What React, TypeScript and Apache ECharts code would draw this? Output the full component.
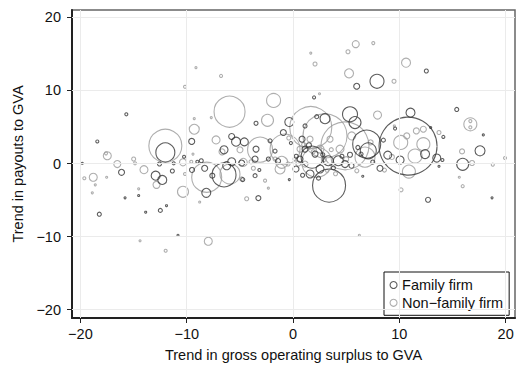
import React, { useEffect, useRef } from "react";
import * as echarts from "echarts";

// [trend in gross operating surplus to GVA, trend in payouts to GVA, firm weight]
const familyFirms: number[][] = [
  [-19.82, 0.03, 1], [-18.41, 3.02, 1.5], [-18.22, -6.93, 2], [-16.13, -1.2, 3],
  [-15.8, -4.69, 1], [-15.68, 6.73, 1.5], [-14.52, -4.38, 1], [-13.86, -6.66, 1],
  [-12.92, -1.66, 4.5], [-12.56, -0.07, 2], [-12.48, -6.41, 2], [-12.3, -2.24, 4.5],
  [-12.01, 1.52, 9.5], [-11.9, -5.77, 1], [-11.35, -1.02, 2], [-11.22, 0.03, 1.5],
  [-10.82, -9.81, 1], [-10.25, 0.92, 1.5], [-9.53, 3.02, 3], [-9.5, -0.88, 2.5],
  [-9.0, 0.24, 1.5], [-8.63, 0.38, 2], [-8.31, -0.65, 3], [-8.16, -4.01, 4.5],
  [-7.59, -1.66, 2.5], [-6.49, -1.56, 12], [-6.49, 1.88, 4], [-6.24, -0.3, 4],
  [-5.77, 3.7, 3], [-5.36, 2.99, 4.5], [-4.58, 2.96, 4], [-5.77, 0.24, 4],
  [-4.83, 0.07, 3], [-4.73, -2.2, 2], [-3.57, 0.61, 3], [-3.48, 5.5, 2],
  [-3.48, 1.97, 3], [-3.26, -4.73, 2.5], [-3.17, -0.88, 1.5], [-3.57, -1.66, 2],
  [-2.32, 0.61, 2], [-2.16, 3.1, 2], [-0.35, 5.68, 4.5], [-0.35, -2.2, 1],
  [-0.91, 4.24, 3], [1.98, 9.04, 1.5], [2.23, 6.41, 2], [3.01, 6.14, 5],
  [1.13, 5.14, 2], [2.07, 1.29, 3], [3.32, 0.38, 5], [4.26, 0.38, 5],
  [3.39, -3.02, 16.5], [5.36, 6.73, 7.5], [5.83, 5.6, 6], [5.99, 10.57, 3],
  [7.9, 11.25, 7], [12.54, 12.66, 2], [6.93, 2.65, 14], [5.36, 1.2, 2.5],
  [6.4, 1.29, 2], [7.08, 1.74, 8], [6.56, -1.74, 1], [8.18, -0.65, 3],
  [8.91, 1.15, 4], [10.07, 0.48, 4], [9.6, 4.78, 1.5], [10.82, 2.38, 29],
  [11.05, 6.96, 4.5], [12.42, 1.29, 4.5], [13.52, 0.75, 4], [12.95, 4.92, 1],
  [14.14, 3.64, 1.5], [12.7, -4.96, 2.5], [15.4, 7.4, 2], [17.9, 3.91, 1],
  [17.59, 1.74, 5], [15.96, -0.11, 6], [18.72, -4.69, 1], [1.79, 0.88, 11],
  [0.66, 0.61, 3], [1.13, 1.97, 3], [0.28, -0.75, 3], [1.6, -1.43, 4],
  [2.54, -0.75, 4], [4.89, -0.07, 3.5], [0.85, 3.33, 3], [-1.41, 0.34, 2.5],
  [-1.69, 1.7, 2], [14.05, 0.48, 1.5], [13.73, -0.38, 1],
  [0.3, 1.0, 2], [1.5, 2.5, 2.5], [2.8, 1.2, 2], [3.8, -0.6, 2],
  [4.6, 1.0, 2], [5.5, -0.3, 2.5], [6.1, 2.2, 2], [0.9, -1.6, 2],
  [2.4, -2.0, 2], [-0.2, 2.8, 1.5], [7.5, 0.2, 2], [8.5, 3.2, 2],
];

const nonFamilyFirms: number[][] = [
  [-19.63, -2.01, 1.5], [-18.79, -1.88, 4], [-18.6, -2.92, 1], [-18.88, -4.01, 1],
  [-17.59, 1.39, 1.5], [-17.47, 1.06, 4], [-16.53, -0.07, 3.5], [-17.53, -1.88, 1],
  [-14.99, 0.61, 2], [-14.86, 0.03, 1.5], [-14.52, -3.46, 1], [-14.39, -10.57, 1],
  [-14.02, -0.84, 4], [-12.84, -2.92, 3.5], [-11.98, -11.93, 1.5], [-12.01, 2.42, 16.5],
  [-10.35, 0.16, 3.5], [-10.35, -3.87, 5.5], [-10.16, -1.43, 1.5], [-10.16, 10.49, 1.5],
  [-9.29, 4.69, 5], [-9.29, 6.14, 1], [-9.57, 0.24, 1.5], [-9.41, 1.29, 1],
  [-9.13, 13.11, 1], [-8.78, -5.27, 1], [-8.12, -1.88, 15], [-7.97, -10.63, 4],
  [-7.69, 6.28, 1], [-7.24, 3.23, 4], [-6.77, 11.98, 1.5], [-6.68, 1.6, 3],
  [-5.97, 7.09, 15.5], [-5.93, -1.43, 10], [-4.99, 1.88, 3], [-4.83, -2.11, 2],
  [-4.68, 0.16, 4], [-4.36, -4.82, 2], [-3.95, 0.24, 2], [-3.73, -0.65, 2],
  [-3.1, 1.9, 12.5], [-2.63, -2.34, 1.5], [-2.32, -3.37, 1], [-2.4, 5.91, 6],
  [-1.83, 8.63, 7], [-1.22, -0.75, 5], [-1.06, 0.16, 6], [-0.75, 1.97, 15],
  [1.67, 15.11, 1], [2.07, 13.61, 2], [2.49, 9.54, 1], [1.67, 4.92, 21],
  [3.01, 3.78, 22], [4.89, 2.42, 24], [5.17, 15.29, 2], [5.9, 16.33, 3.5],
  [7.55, 16.47, 1.5], [5.27, 12.34, 4.5], [9.5, 11.25, 2], [10.63, 13.79, 4.5],
  [5.52, 3.78, 4], [7.95, 6.63, 4], [10.13, 2.88, 7], [12.26, 2.65, 6.5],
  [10.9, -1.1, 6.5], [11.6, 4.46, 3], [12.26, 4.69, 3], [10.7, 3.78, 3],
  [9.53, 5.14, 1], [13.73, 4.24, 2], [10.16, -3.6, 2], [6.24, -9.81, 1],
  [16.68, 5.37, 6.5], [16.68, 5.8, 1.5], [16.68, 4.95, 1.5], [16.84, 0.07, 2.5],
  [15.9, 1.66, 2.5], [18.79, -0.16, 1.5], [19.94, 0.75, 1.5], [15.64, -1.88, 1],
  [15.96, -3.1, 1.5], [6.77, 0.88, 10], [2.23, 0.16, 15], [0.66, 1.97, 3],
  [0.19, 0.61, 2], [1.13, -0.07, 3], [2.54, 1.97, 4], [3.48, 3.33, 3],
  [4.42, 1.97, 4], [1.6, 3.33, 3], [-0.47, -0.07, 2], [-1.69, 0.61, 2],
  [11.48, 1.02, 7],
  [0.5, 0.0, 2.5], [1.9, 1.6, 2], [2.9, 0.6, 2.5], [3.6, 1.9, 2],
  [4.0, -1.4, 2], [5.0, 0.6, 2.5], [6.0, -1.0, 2], [-0.4, 3.5, 2],
  [1.0, 2.6, 2], [3.2, -1.0, 1.5], [7.3, 2.9, 2.5], [8.6, -0.9, 2],
  [9.3, 0.9, 2.5],
];

const xTicks = [-20, -10, 0, 10, 20];
const yTicks = [-20, -10, 0, 10, 20];
const xRange = [-20.79, 20.88];
const yRange = [-21.13, 21.0];

const FONT = "'Liberation Sans', Arial, Helvetica, sans-serif";
const DARK = "#333333";
const GRAY = "#9a9a9a";

const fmt = (v: number) => (v < 0 ? "\u2212" + Math.abs(v) : String(v));

export default function App() {
  const ref = useRef<HTMLDivElement>(null);
  useEffect(() => {
    if (!ref.current) return;
    const chart = echarts.init(ref.current, null, { renderer: "svg" });
    const bubble = (name: string, data: number[][], color: string) => ({
      name,
      type: "scatter",
      data,
      symbol: "circle",
      symbolSize: (v: number[]) => v[2] * 2,
      itemStyle: { color: "transparent", borderColor: color, borderWidth: 1.1 },
      emphasis: { disabled: true },
      silent: true,
      z: 3,
    });
    chart.setOption({
      animation: false,
      backgroundColor: "#ffffff",
      textStyle: { fontFamily: FONT },
      grid: {
        show: true,
        left: 72,
        right: 3,
        top: 10,
        bottom: 47,
        borderColor: "#666666",
        borderWidth: 1.5,
        backgroundColor: "#ffffff",
      },
      legend: {
        left: 384,
        top: 272,
        orient: "vertical",
        padding: [5.5, 6, 5, 5.5],
        itemGap: 2.8,
        itemWidth: 7,
        itemHeight: 7,
        borderColor: "#111111",
        borderWidth: 1,
        backgroundColor: "#ffffff",
        textStyle: { fontSize: 14.5, fontFamily: FONT, color: "#111111" },
        selectedMode: false,
        data: [
          {
            name: "Family firm",
            icon: "circle",
            itemStyle: { color: "transparent", borderColor: DARK, borderWidth: 1.1 },
          },
          {
            name: "Non\u2212family firm",
            icon: "circle",
            itemStyle: { color: "transparent", borderColor: GRAY, borderWidth: 1.1 },
          },
        ],
      },
      xAxis: {
        type: "value",
        min: xRange[0],
        max: xRange[1],
        name: "Trend in gross operating surplus to GVA",
        nameLocation: "middle",
        nameGap: 29,
        nameTextStyle: { fontSize: 14.5, fontFamily: FONT, color: "#111111" },
        axisLine: { show: true, onZero: false, lineStyle: { color: "#222222", width: 2 } },
        axisTick: {
          show: true,
          length: 5,
          customValues: xTicks,
          lineStyle: { color: "#222222", width: 1 },
        },
        axisLabel: {
          customValues: xTicks,
          margin: 8,
          fontSize: 14.5,
          fontFamily: FONT,
          color: "#111111",
          formatter: fmt,
        },
        splitLine: { show: false },
      },
      yAxis: {
        type: "value",
        min: yRange[0],
        max: yRange[1],
        name: "Trend in payouts to GVA",
        nameLocation: "middle",
        nameGap: 44,
        nameTextStyle: { fontSize: 14.5, fontFamily: FONT, color: "#111111" },
        axisLine: { show: true, onZero: false, lineStyle: { color: "#222222", width: 2 } },
        axisTick: {
          show: true,
          length: 5,
          customValues: yTicks,
          lineStyle: { color: "#222222", width: 1 },
        },
        axisLabel: {
          customValues: yTicks,
          margin: 11,
          fontSize: 14.5,
          fontFamily: FONT,
          color: "#111111",
          formatter: fmt,
        },
        splitLine: { show: false },
      },
      series: [
        {
          name: "gridlines",
          type: "scatter",
          data: [],
          silent: true,
          z: 1,
          markLine: {
            silent: true,
            symbol: ["none", "none"],
            label: { show: false },
            emphasis: { disabled: true },
            lineStyle: { color: "#ebebeb", width: 1, type: "solid" },
            data: [
              ...xTicks.map((v) => ({ xAxis: v })),
              ...yTicks.map((v) => ({ yAxis: v })),
            ],
          },
        },
        bubble("Non\u2212family firm", nonFamilyFirms, GRAY),
        bubble("Family firm", familyFirms, DARK),
      ],
    });
    return () => chart.dispose();
  }, []);
  return (
    <div
      ref={ref}
      style={{ position: "fixed", left: 0, top: 0, width: 518, height: 367 }}
    />
  );
}
